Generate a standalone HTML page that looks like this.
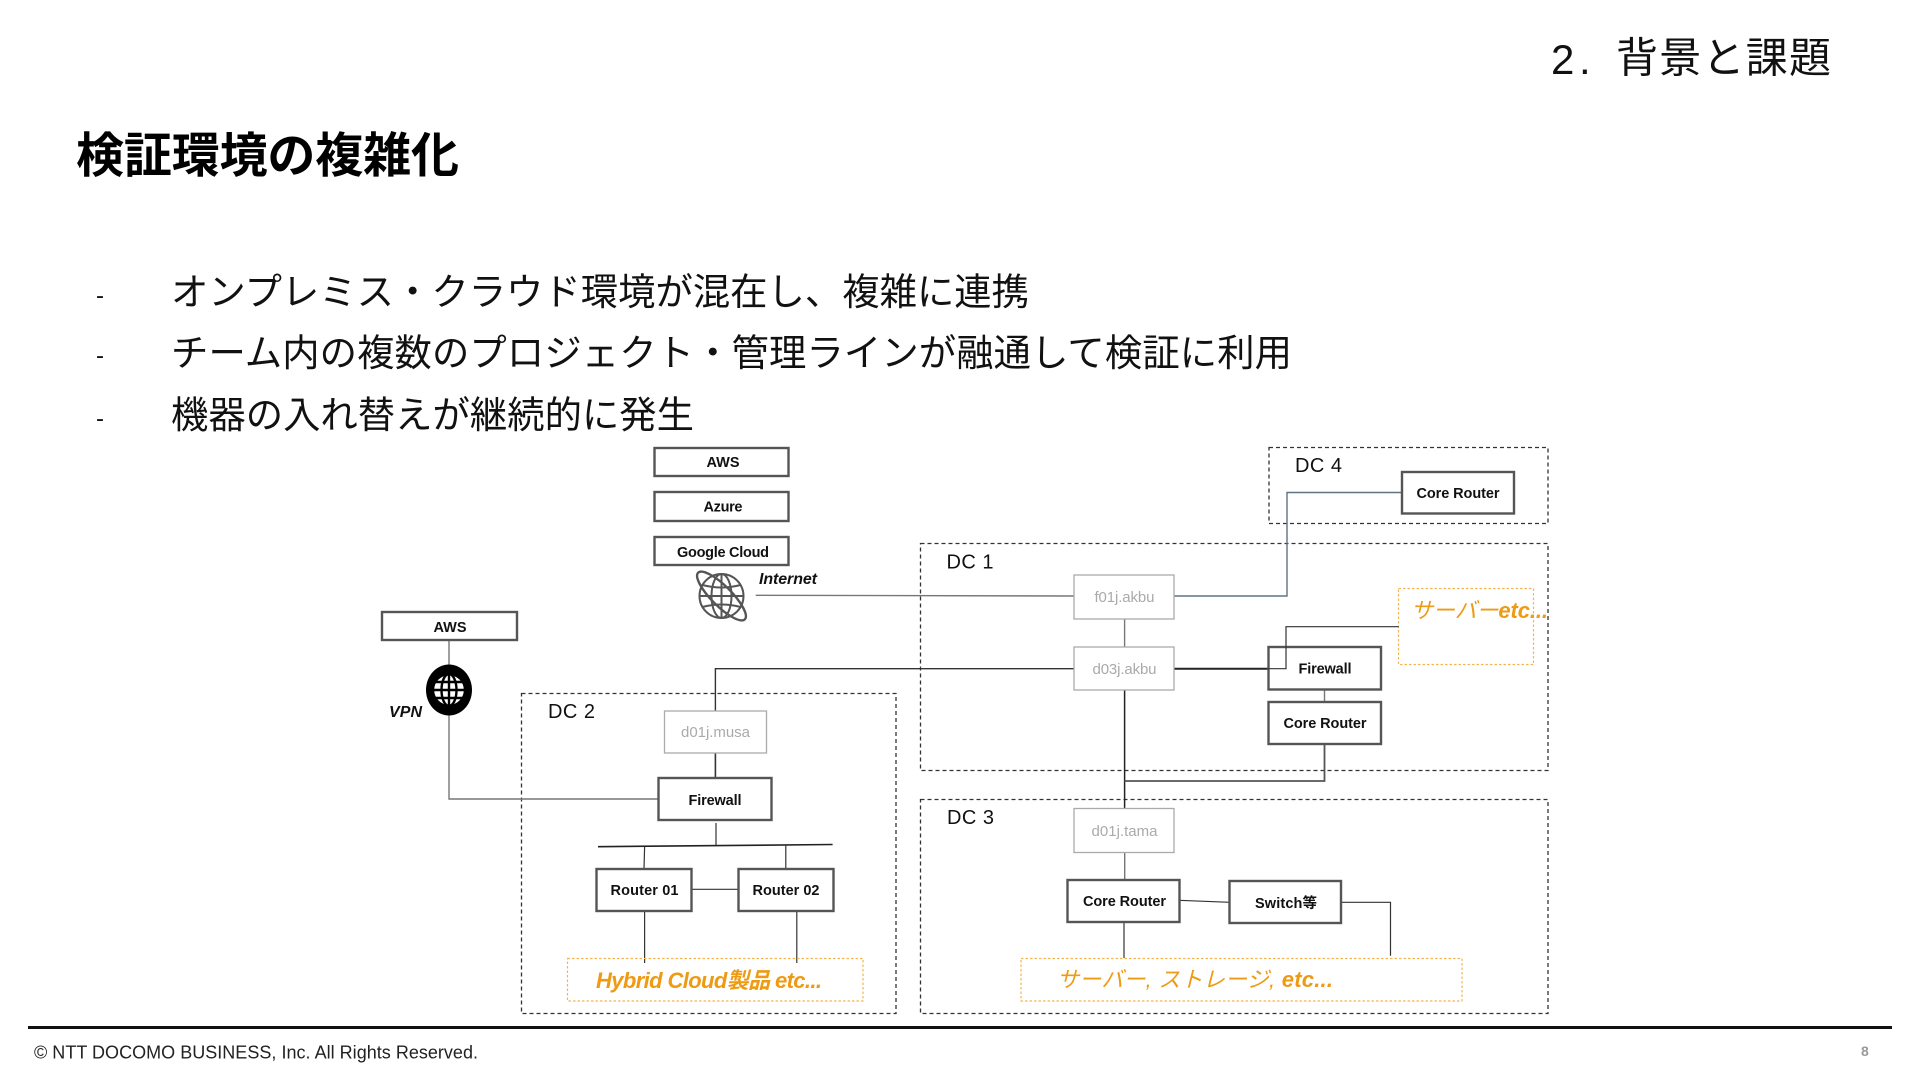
<!DOCTYPE html>
<html lang="ja">
<head>
<meta charset="utf-8">
<title>検証環境の複雑化</title>
<style>
html,body{margin:0;padding:0;background:#fff;width:1920px;height:1080px;overflow:hidden}
svg{display:block;position:absolute;left:0;top:0}
text{font-family:"Liberation Sans","Noto Sans CJK JP",sans-serif}
.jp{font-family:"Noto Sans CJK JP","Liberation Sans",sans-serif}
.n{font-weight:700;font-size:14.5px;fill:#111;text-anchor:middle}
.g{font-size:15px;fill:#aaa;text-anchor:middle}
.dc{font-size:20px;fill:#111}
.node{fill:#fff;stroke:#555;stroke-width:2.4}
.gb{fill:#fff;stroke:#aaa;stroke-width:1.3}
.dash{fill:none;stroke:#333;stroke-width:1.3;stroke-dasharray:4 3}
.or{fill:none;stroke:#f3b452;stroke-width:1.2;stroke-dasharray:2.5 2}
.l{fill:none;stroke:#333;stroke-width:1.2}
.lg{fill:none;stroke:#777;stroke-width:1.4}
.o{font-weight:700;font-style:italic;font-size:22px;fill:#ee9a12}
.b{font-size:37.33px;fill:#111}
</style>
</head>
<body>
<svg width="1920" height="1080" viewBox="0 0 1920 1080" xmlns="http://www.w3.org/2000/svg">
<rect width="1920" height="1080" fill="#fff"/>

<!-- headers -->
<text x="1551" y="74" font-size="42" fill="#111">2</text>
<text x="1579" y="74" font-size="42" fill="#111">.</text>
<text class="jp" x="1616" y="72.5" font-size="42" fill="#111" textLength="215">背景と課題</text>
<text class="jp" x="76" y="172" font-size="48" font-weight="700" fill="#000" textLength="383">検証環境の複雑化</text>

<!-- bullets -->
<text x="96" y="303.5" font-size="24" fill="#111">-</text>
<text x="96" y="363.5" font-size="24" fill="#111">-</text>
<text x="96" y="426.5" font-size="24" fill="#111">-</text>
<text class="jp b" x="171" y="305" textLength="858">オンプレミス・クラウド環境が混在し、複雑に連携</text>
<text class="jp b" x="171" y="366" textLength="1121">チーム内の複数のプロジェクト・管理ラインが融通して検証に利用</text>
<text class="jp b" x="171" y="428" textLength="523">機器の入れ替えが継続的に発生</text>

<!-- DC containers -->
<rect class="dash" x="1269" y="447.5" width="279" height="76"/>
<rect class="dash" x="920.5" y="543.5" width="627.5" height="227"/>
<rect class="dash" x="521.5" y="693.5" width="374.5" height="320"/>
<rect class="dash" x="920.5" y="799.5" width="627.5" height="214"/>
<text class="dc" x="1295" y="472" textLength="47">DC 4</text>
<text class="dc" x="946.5" y="568.5" textLength="47">DC 1</text>
<text class="dc" x="548" y="718" textLength="47">DC 2</text>
<text class="dc" x="947" y="824" textLength="47">DC 3</text>

<!-- connectors -->
<polyline class="lg" points="755.7,595.3 1074,596"/>
<polyline style="fill:none;stroke:#5f7385;stroke-width:1.4" points="1174.5,596 1287,596 1287,492.5 1402,492.5"/>
<polyline class="l" style="stroke-width:1.4" points="1074,668.7 715.4,668.7 715.4,711"/>
<line class="lg" x1="1124.6" y1="618" x2="1124.6" y2="647"/>
<line x1="1174.5" y1="668.7" x2="1268" y2="668.7" stroke="#222" stroke-width="2"/>
<line x1="1124.6" y1="690" x2="1124.6" y2="808" stroke="#222" stroke-width="1.5"/>
<polyline class="lg" style="stroke:#555;stroke-width:1.8" points="1124.6,781 1324.5,781 1324.5,744"/>
<line class="lg" x1="1324.5" y1="689" x2="1324.5" y2="702"/>
<line class="l" x1="715.4" y1="753" x2="715.4" y2="778" style="stroke-width:1.6"/>
<polyline class="lg" points="449,641 449,667"/>
<polyline class="lg" points="449,714 449,799 659,799"/>
<line class="l" x1="716" y1="823" x2="716" y2="846"/>
<line x1="598" y1="846.7" x2="832.6" y2="844.5" stroke="#222" stroke-width="1.6"/>
<line class="l" x1="644.6" y1="847" x2="644" y2="869"/>
<line class="l" x1="785.8" y1="845" x2="785.8" y2="869"/>
<line class="l" x1="691" y1="889.3" x2="739" y2="889.3"/>
<line class="l" x1="644.6" y1="911" x2="644.6" y2="963"/>
<line class="l" x1="796.8" y1="911" x2="796.8" y2="963"/>
<line class="lg" x1="1124.7" y1="852" x2="1124.7" y2="880"/>
<line class="l" x1="1124" y1="922" x2="1124" y2="958"/>
<line class="l" x1="1179" y1="900.3" x2="1230" y2="902.3"/>
<polyline class="l" points="1340.5,902.3 1390.5,902.3 1390.5,955.7"/>

<!-- orange areas -->
<rect class="or" x="1398.5" y="588.5" width="135" height="76"/>
<rect class="or" x="567.5" y="958.5" width="295.5" height="42.5"/>
<rect class="or" x="1021" y="958.5" width="441" height="42.5"/>

<!-- cloud boxes -->
<rect class="node" x="654.5" y="448" width="134" height="28"/>
<rect class="node" x="654.5" y="492" width="134" height="29"/>
<rect class="node" x="654.5" y="537" width="134" height="28"/>
<rect class="node" x="382" y="612" width="135" height="28"/>
<text class="n" x="723" y="467" textLength="33">AWS</text>
<text class="n" x="723" y="511.5" textLength="39">Azure</text>
<text class="n" x="723" y="557" textLength="92">Google Cloud</text>
<text class="n" x="450" y="632" textLength="33">AWS</text>

<!-- Internet globe -->
<g transform="translate(721.5,596)" fill="none" stroke="#555" stroke-width="2">
<circle r="22" fill="#fff"/>
<ellipse rx="10" ry="22"/>
<line x1="0" y1="-22" x2="0" y2="22"/>
<line x1="-22" y1="0" x2="22" y2="0"/>
<path d="M-19,-11 Q0,-6 19,-11 M-19,11 Q0,6 19,11"/>
<ellipse rx="33" ry="10" transform="rotate(45)" stroke-width="2.4"/>
</g>
<text x="759" y="584" font-size="16" font-style="italic" font-weight="700" fill="#111" textLength="58">Internet</text>

<!-- VPN globe -->
<g transform="translate(449,690)">
<ellipse rx="23" ry="25.5" fill="#000"/>
<circle r="16.5" fill="#fff"/>
<g fill="none" stroke="#000" stroke-width="2.4">
<circle r="16"/>
<ellipse rx="7.5" ry="16"/>
<line x1="0" y1="-16" x2="0" y2="16"/>
<line x1="-16" y1="0" x2="16" y2="0"/>
<line x1="-14" y1="-8" x2="14" y2="-8"/>
<line x1="-14" y1="8" x2="14" y2="8"/>
</g>
</g>
<text x="389" y="717" font-size="16" font-style="italic" font-weight="700" fill="#111" textLength="33">VPN</text>

<!-- gray nodes -->
<rect class="gb" x="1074" y="575" width="100" height="44"/>
<rect class="gb" x="1074" y="647" width="100" height="43"/>
<rect class="gb" x="664.5" y="711" width="102" height="42"/>
<rect class="gb" x="1074" y="808.5" width="100" height="44"/>
<text class="g" x="1124.5" y="602" textLength="60">f01j.akbu</text>
<text class="g" x="1124.5" y="674" textLength="64">d03j.akbu</text>
<text class="g" x="715.5" y="737" textLength="69">d01j.musa</text>
<text class="g" x="1124.5" y="836" textLength="66">d01j.tama</text>

<!-- device nodes -->
<rect class="node" x="1402" y="472" width="112" height="41.5"/>
<text class="n" x="1458" y="498" textLength="83">Core Router</text>

<rect class="node" x="1268.5" y="647" width="112.5" height="42.5"/>
<polyline class="l" points="1398.7,626.7 1286,626.7 1286,668.7 1268,668.7"/>
<text class="n" x="1325" y="673.5" textLength="53">Firewall</text>
<rect class="node" x="1268.5" y="702" width="112.5" height="42"/>
<text class="n" x="1325" y="728" textLength="83">Core Router</text>

<rect class="node" x="658.5" y="778" width="113" height="42"/>
<text class="n" x="715" y="805" textLength="53">Firewall</text>
<rect class="node" x="596.5" y="869" width="95" height="42"/>
<text class="n" x="644.5" y="895" textLength="68">Router  01</text>
<rect class="node" x="738.5" y="869" width="95" height="42"/>
<text class="n" x="786" y="895" textLength="67">Router 02</text>
<rect class="node" x="1067.5" y="880" width="112" height="42"/>
<text class="n" x="1124.5" y="906" textLength="83">Core Router</text>
<rect class="node" x="1229.5" y="881" width="111.5" height="42"/>
<text class="n" x="1286" y="908" textLength="62">Switch等</text>

<!-- orange text -->
<text class="o" x="1411" y="618" textLength="137"><tspan font-weight="400">サーバー</tspan>etc...</text>
<text class="o" x="596" y="988" textLength="226">Hybrid Cloud製品 etc...</text>
<text class="o" x="1057" y="987" textLength="276"><tspan font-weight="400">サーバー, ストレージ,</tspan> etc...</text>

<!-- footer -->
<line x1="28" y1="1027.5" x2="1892" y2="1027.5" stroke="#111" stroke-width="3"/>
<text x="34" y="1058.5" font-size="18" fill="#222" textLength="444">© NTT DOCOMO BUSINESS, Inc. All Rights Reserved.</text>
<text x="1861" y="1056" font-size="14" font-weight="700" fill="#999">8</text>
</svg>
</body>
</html>
